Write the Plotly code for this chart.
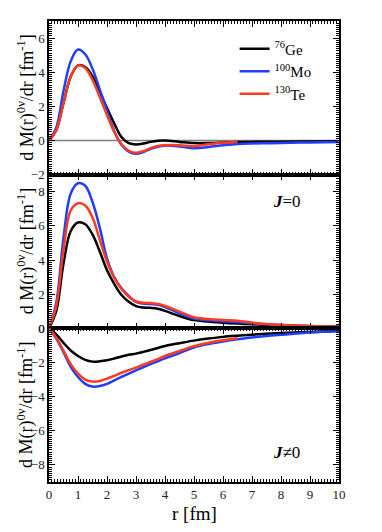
import plotly.graph_objects as go

# ---- data ----
r = [0, 0.25, 0.5, 0.75, 1.0, 1.25, 1.5, 1.75, 2.0, 2.25, 2.5, 2.75, 3.0, 3.25,
     3.5, 3.75, 4.0, 4.5, 5.0, 5.5, 6.0, 6.5, 7.0, 7.5, 8.0, 9.0, 10.0]
r_te = r[:22]  # Te curves in top/bottom panels end at 6.5 fm

# total
tot_ge = [0, 0.6, 2.2, 3.75, 4.4, 4.3, 3.75, 2.85, 1.9, 1.0, 0.2, -0.15, -0.23, -0.18,
          -0.08, -0.01, 0.0, -0.08, -0.15, -0.15, -0.12, -0.09, -0.08, -0.07, -0.07, -0.06, -0.05]
tot_mo = [0, 0.75, 2.9, 4.65, 5.33, 5.05, 4.2, 3.0, 1.75, 0.55, -0.25, -0.65, -0.78, -0.68,
          -0.5, -0.36, -0.3, -0.35, -0.45, -0.38, -0.28, -0.2, -0.17, -0.16, -0.15, -0.11, -0.09]
tot_te = [0, 0.6, 2.2, 3.75, 4.4, 4.25, 3.55, 2.55, 1.5, 0.5, -0.22, -0.6, -0.72, -0.62,
          -0.45, -0.32, -0.27, -0.28, -0.33, -0.22, -0.13, -0.08]

# J = 0
j0_ge = [0, 1.0, 3.8, 5.7, 6.2, 6.1, 5.5, 4.5, 3.4, 2.6, 1.95, 1.55, 1.3, 1.22,
         1.2, 1.15, 1.02, 0.72, 0.48, 0.4, 0.33, 0.28, 0.24, 0.2, 0.17, 0.12, 0.1]
j0_mo = [0, 1.5, 5.3, 7.9, 8.5, 8.35, 7.4, 5.9, 4.1, 3.0, 2.35, 1.9, 1.55, 1.45,
         1.42, 1.38, 1.25, 0.88, 0.57, 0.47, 0.41, 0.35, 0.3, 0.24, 0.19, 0.13, 0.1]
j0_te = [0, 1.3, 4.6, 6.9, 7.33, 7.2, 6.5, 5.2, 3.9, 2.95, 2.3, 1.85, 1.57, 1.5,
         1.48, 1.42, 1.31, 0.98, 0.65, 0.55, 0.49, 0.44, 0.34, 0.25, 0.2, 0.14, 0.11]

# J != 0
jn_ge = [0, -0.35, -0.85, -1.3, -1.62, -1.85, -1.95, -1.93, -1.87, -1.77, -1.65, -1.55, -1.48, -1.38,
         -1.27, -1.15, -1.03, -0.87, -0.72, -0.6, -0.5, -0.43, -0.37, -0.32, -0.28, -0.21, -0.16]
jn_mo = [0, -0.6, -1.4, -2.25, -2.85, -3.25, -3.41, -3.38, -3.25, -3.05, -2.85, -2.65, -2.46, -2.28,
         -2.1, -1.93, -1.76, -1.45, -1.12, -0.92, -0.77, -0.64, -0.53, -0.45, -0.38, -0.25, -0.16]
jn_te = [0, -0.55, -1.3, -2.1, -2.65, -3.0, -3.12, -3.08, -2.95, -2.78, -2.6, -2.45, -2.3, -2.13,
         -1.97, -1.8, -1.62, -1.33, -1.05, -0.85, -0.7, -0.58]

names = ["<sup>76</sup>Ge", "<sup>100</sup>Mo", "<sup>130</sup>Te"]
colors = ["#000000", "#1f3fff", "#ff3b1f"]

x_ticks = list(range(0, 11))
y_ticks_top = [-2, 0, 2, 4, 6]
y_ticks_mid = [0, 2, 4, 6, 8]
y_ticks_bot = [-8, -6, -4, -2, 0]

FONT = "Liberation Serif, Times New Roman, serif"

fig = go.Figure()

panels = [
    ("y", [(r, tot_ge), (r, tot_mo), (r_te, tot_te)], True),
    ("y2", [(r, j0_ge), (r, j0_mo), (r, j0_te)], False),
    ("y3", [(r, jn_ge), (r, jn_mo), (r_te, jn_te)], False),
]
xrefs = {"y": "x", "y2": "x2", "y3": "x3"}
for yref, series, show in panels:
    for (xs, ys), name, col in zip(series, names, colors):
        fig.add_trace(go.Scatter(
            x=xs, y=ys, mode="lines", name=name, showlegend=show,
            line=dict(color=col, width=2.5, shape="spline", smoothing=1.0),
            xaxis=xrefs[yref], yaxis=yref))

# zero line in top panel
fig.add_shape(type="line", xref="x", yref="y", x0=0, x1=10, y0=0, y1=0,
              line=dict(color="#808080", width=1.5), layer="below")

axis_common = dict(
    showline=True, linecolor="black", linewidth=1.5, mirror="ticks",
    ticks="inside", ticklen=6, tickwidth=1.2, tickcolor="black",
    showgrid=False, zeroline=False, automargin=False,
    tickfont=dict(family=FONT, size=13, color="#222"),
)
xminor = dict(ticks="inside", ticklen=3, dtick=0.1, tickcolor="black", tickwidth=1)
yminor = dict(ticks="inside", ticklen=3, dtick=0.125, tickcolor="black", tickwidth=1)

dom = [(2/3, 1.0), (1/3, 2/3), (0.0, 1/3)]

# page body has an 8px margin: figure sized so the plot area lands at x 49..339, y 21..482
fig.update_layout(
    width=374, height=524,
    margin=dict(l=41, r=43, t=13, b=50),
    paper_bgcolor="white", plot_bgcolor="white",
    font=dict(family=FONT, color="black"),
    showlegend=True,
    legend=dict(x=0.64, y=0.975, xanchor="left", yanchor="top",
                bgcolor="rgba(0,0,0,0)", font=dict(family=FONT, size=15),
                tracegroupgap=0, itemwidth=30),
    xaxis=dict(axis_common, range=[0, 10], tickvals=x_ticks, showticklabels=False,
               minor=xminor, anchor="y"),
    xaxis2=dict(axis_common, range=[0, 10], tickvals=x_ticks, showticklabels=False,
                minor=xminor, anchor="y2", matches="x"),
    xaxis3=dict(axis_common, range=[0, 10], tickvals=x_ticks, minor=xminor, anchor="y3",
                matches="x"),
    yaxis=dict(axis_common, range=[-2, 7], tickvals=y_ticks_top, minor=yminor,
               domain=list(dom[0]), anchor="x"),
    yaxis2=dict(axis_common, range=[0, 9], tickvals=y_ticks_mid, minor=yminor,
                domain=list(dom[1]), anchor="x2"),
    yaxis3=dict(axis_common, range=[-9, 0], tickvals=y_ticks_bot, minor=yminor,
                domain=list(dom[2]), anchor="x3"),
)

ytitle = "d M(r)<sup>0ν</sup>/dr [fm<sup>-1</sup>]"
for d in dom:
    fig.add_annotation(text=ytitle, xref="paper", yref="paper", x=-0.08,
                       y=(d[0] + d[1]) / 2, textangle=-90, showarrow=False,
                       font=dict(family=FONT, size=18), xanchor="center", yanchor="middle")

fig.add_annotation(text="r [fm]", xref="paper", yref="paper", x=0.5, y=0,
                   yanchor="top", yshift=-19, showarrow=False,
                   font=dict(family=FONT, size=19))

fig.add_annotation(text="<b><i>J</i></b>=0", xref="x2", yref="y2", x=8.2, y=7.45,
                   showarrow=False, font=dict(family=FONT, size=17))
fig.add_annotation(text="<b><i>J</i></b>≠0", xref="x3", yref="y3", x=8.2, y=-7.25,
                   showarrow=False, font=dict(family=FONT, size=17))

fig.write_html("out.html")
